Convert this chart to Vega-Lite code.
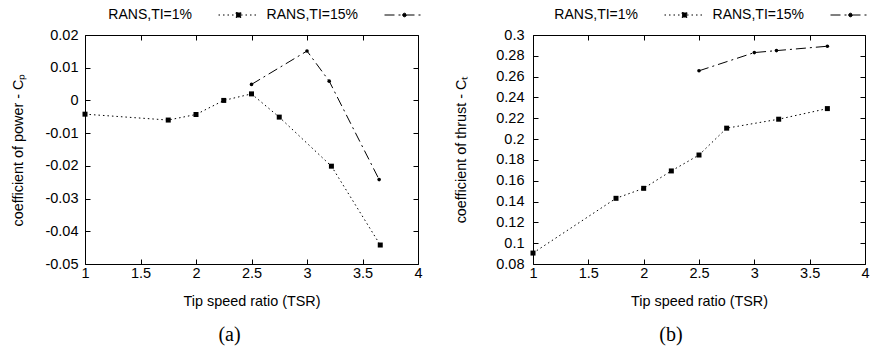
{
  "$schema": "https://vega.github.io/schema/vega-lite/v6.json",
  "padding": {"left": 10, "top": 7, "right": 4, "bottom": 4},
  "background": "white",
  "bounds": "flush",
  "datasets": {
    "cp": [
      {"tsr": 1.0, "value": -0.0042, "series": "RANS,TI=1%"},
      {"tsr": 1.75, "value": -0.006, "series": "RANS,TI=1%"},
      {"tsr": 2.0, "value": -0.0043, "series": "RANS,TI=1%"},
      {"tsr": 2.25, "value": 0.0, "series": "RANS,TI=1%"},
      {"tsr": 2.5, "value": 0.002, "series": "RANS,TI=1%"},
      {"tsr": 2.75, "value": -0.0051, "series": "RANS,TI=1%"},
      {"tsr": 3.22, "value": -0.0201, "series": "RANS,TI=1%"},
      {"tsr": 3.66, "value": -0.0442, "series": "RANS,TI=1%"},
      {"tsr": 2.5, "value": 0.0049, "series": "RANS,TI=15%"},
      {"tsr": 3.0, "value": 0.0151, "series": "RANS,TI=15%"},
      {"tsr": 3.2, "value": 0.0059, "series": "RANS,TI=15%"},
      {"tsr": 3.65, "value": -0.0242, "series": "RANS,TI=15%"}
    ],
    "ct": [
      {"tsr": 1.0, "value": 0.0905, "series": "RANS,TI=1%"},
      {"tsr": 1.75, "value": 0.1431, "series": "RANS,TI=1%"},
      {"tsr": 2.0, "value": 0.1527, "series": "RANS,TI=1%"},
      {"tsr": 2.25, "value": 0.1694, "series": "RANS,TI=1%"},
      {"tsr": 2.5, "value": 0.1847, "series": "RANS,TI=1%"},
      {"tsr": 2.75, "value": 0.2105, "series": "RANS,TI=1%"},
      {"tsr": 3.22, "value": 0.2191, "series": "RANS,TI=1%"},
      {"tsr": 3.66, "value": 0.2293, "series": "RANS,TI=1%"},
      {"tsr": 2.5, "value": 0.2656, "series": "RANS,TI=15%"},
      {"tsr": 3.0, "value": 0.2831, "series": "RANS,TI=15%"},
      {"tsr": 3.2, "value": 0.285, "series": "RANS,TI=15%"},
      {"tsr": 3.66, "value": 0.2892, "series": "RANS,TI=15%"}
    ]
  },
  "spacing": 115,
  "hconcat": [
    {
      "width": 333,
      "height": 229,
      "data": {"name": "cp"},
      "title": {"text": "(a)", "orient": "bottom", "anchor": "middle", "font": "Liberation Serif", "fontSize": 20, "fontWeight": "normal", "color": "black", "dx": -22, "offset": 17},
      "layer": [
        {
          "mark": {"type": "line", "color": "black", "strokeWidth": 1},
          "encoding": {
            "x": {"field": "tsr", "type": "quantitative", "scale": {"domain": [1, 4], "nice": false, "zero": false},
              "axis": {"title": "Tip speed ratio (TSR)", "values": [1, 1.5, 2, 2.5, 3, 3.5, 4], "labelExpr": "format(datum.value, '~g')", "domain": false, "grid": false, "tickSize": -5, "labelPadding": 7, "titlePadding": 15}},
            "y": {"field": "value", "type": "quantitative", "scale": {"domain": [-0.05, 0.02], "nice": false, "zero": false},
              "axis": {"title": "coefficient of power - Cₚ", "values": [-0.05, -0.04, -0.03, -0.02, -0.01, 0, 0.01, 0.02], "labelExpr": "replace(format(datum.value, '~g'), '−', '-')", "domain": false, "grid": false, "tickSize": -5, "labelPadding": 12, "titlePadding": 19}},
            "strokeDash": {"field": "series", "type": "nominal",
              "scale": {"domain": ["RANS,TI=1%", "RANS,TI=15%"], "range": [[1.5, 3], [10, 4, 2, 4]]},
              "legend": {"orient": "none", "legendX": 146.5, "legendY": -27, "direction": "horizontal", "title": null, "labelAlign": "right", "labelOffset": -53.5, "symbolSize": 64, "symbolStrokeWidth": 1, "symbolStrokeColor": "black", "symbolFillColor": "black", "labelFont": "Liberation Sans", "labelFontSize": 14, "labelColor": "black", "columnPadding": 6,
                "encode": {"symbols": {"update": {"shape": {"signal": "datum.value === 'RANS,TI=1%' ? 'M-5,0H5M-0.6,-0.6H0.6V0.6H-0.6Z' : 'M-5,0H5M0.45,0A0.45,0.45,0,1,1,-0.45,0A0.45,0.45,0,1,1,0.45,0Z'"}}}}}
            }
          }
        },
        {
          "transform": [{"filter": "datum.series === 'RANS,TI=1%'"}],
          "mark": {"type": "point", "filled": true, "color": "black", "opacity": 1, "shape": "square", "size": 25},
          "encoding": {
            "x": {"field": "tsr", "type": "quantitative", "axis": {"orient": "top", "labels": false, "title": null, "domain": false, "grid": false, "tickSize": -5, "values": [1, 1.5, 2, 2.5, 3, 3.5, 4]}},
            "y": {"field": "value", "type": "quantitative", "axis": {"orient": "right", "labels": false, "title": null, "domain": false, "grid": false, "tickSize": -5, "values": [-0.05, -0.04, -0.03, -0.02, -0.01, 0, 0.01, 0.02]}}
          }
        },
        {
          "transform": [{"filter": "datum.series === 'RANS,TI=15%'"}],
          "mark": {"type": "point", "filled": true, "color": "black", "opacity": 1, "shape": "circle", "size": 13},
          "encoding": {
            "x": {"field": "tsr", "type": "quantitative", "axis": null},
            "y": {"field": "value", "type": "quantitative", "axis": null}
          }
        }
      ],
      "resolve": {"axis": {"x": "independent", "y": "independent"}}
    },
    {
      "width": 332,
      "height": 229,
      "data": {"name": "ct"},
      "title": {"text": "(b)", "orient": "bottom", "anchor": "middle", "font": "Liberation Serif", "fontSize": 20, "fontWeight": "normal", "color": "black", "dx": -28, "offset": 17},
      "layer": [
        {
          "mark": {"type": "line", "color": "black", "strokeWidth": 1},
          "encoding": {
            "x": {"field": "tsr", "type": "quantitative", "scale": {"domain": [1, 4], "nice": false, "zero": false},
              "axis": {"title": "Tip speed ratio (TSR)", "values": [1, 1.5, 2, 2.5, 3, 3.5, 4], "labelExpr": "format(datum.value, '~g')", "domain": false, "grid": false, "tickSize": -5, "labelPadding": 7, "titlePadding": 15}},
            "y": {"field": "value", "type": "quantitative", "scale": {"domain": [0.08, 0.3], "nice": false, "zero": false},
              "axis": {"title": "coefficient of thrust - Cₜ", "values": [0.08, 0.1, 0.12, 0.14, 0.16, 0.18, 0.2, 0.22, 0.24, 0.26, 0.28, 0.3], "labelExpr": "format(datum.value, '~g')", "domain": false, "grid": false, "tickSize": -5, "labelPadding": 14, "titlePadding": 27}},
            "strokeDash": {"field": "series", "type": "nominal",
              "scale": {"domain": ["RANS,TI=1%", "RANS,TI=15%"], "range": [[1.5, 3], [10, 4, 2, 4]]},
              "legend": {"orient": "none", "legendX": 144.5, "legendY": -27, "direction": "horizontal", "title": null, "labelAlign": "right", "labelOffset": -53.5, "symbolSize": 64, "symbolStrokeWidth": 1, "symbolStrokeColor": "black", "symbolFillColor": "black", "labelFont": "Liberation Sans", "labelFontSize": 14, "labelColor": "black", "columnPadding": 6,
                "encode": {"symbols": {"update": {"shape": {"signal": "datum.value === 'RANS,TI=1%' ? 'M-5,0H5M-0.6,-0.6H0.6V0.6H-0.6Z' : 'M-5,0H5M0.45,0A0.45,0.45,0,1,1,-0.45,0A0.45,0.45,0,1,1,0.45,0Z'"}}}}}
            }
          }
        },
        {
          "transform": [{"filter": "datum.series === 'RANS,TI=1%'"}],
          "mark": {"type": "point", "filled": true, "color": "black", "opacity": 1, "shape": "square", "size": 25},
          "encoding": {
            "x": {"field": "tsr", "type": "quantitative", "axis": {"orient": "top", "labels": false, "title": null, "domain": false, "grid": false, "tickSize": -5, "values": [1, 1.5, 2, 2.5, 3, 3.5, 4]}},
            "y": {"field": "value", "type": "quantitative", "axis": {"orient": "right", "labels": false, "title": null, "domain": false, "grid": false, "tickSize": -5, "values": [0.08, 0.1, 0.12, 0.14, 0.16, 0.18, 0.2, 0.22, 0.24, 0.26, 0.28, 0.3]}}
          }
        },
        {
          "transform": [{"filter": "datum.series === 'RANS,TI=15%'"}],
          "mark": {"type": "point", "filled": true, "color": "black", "opacity": 1, "shape": "circle", "size": 13},
          "encoding": {
            "x": {"field": "tsr", "type": "quantitative", "axis": null},
            "y": {"field": "value", "type": "quantitative", "axis": null}
          }
        }
      ],
      "resolve": {"axis": {"x": "independent", "y": "independent"}}
    }
  ],
  "resolve": {
    "scale": {"strokeDash": "independent"},
    "legend": {"strokeDash": "independent"}
  },
  "config": {
    "view": {"stroke": "black", "strokeWidth": 1},
    "axis": {"labelFont": "Liberation Sans", "labelFontSize": 14.5, "labelColor": "black", "titleFont": "Liberation Sans", "titleFontSize": 14.4, "titleFontWeight": "normal", "titleColor": "black", "tickColor": "black", "tickWidth": 1, "labelFlush": false, "labelOverlap": false}
  }
}
